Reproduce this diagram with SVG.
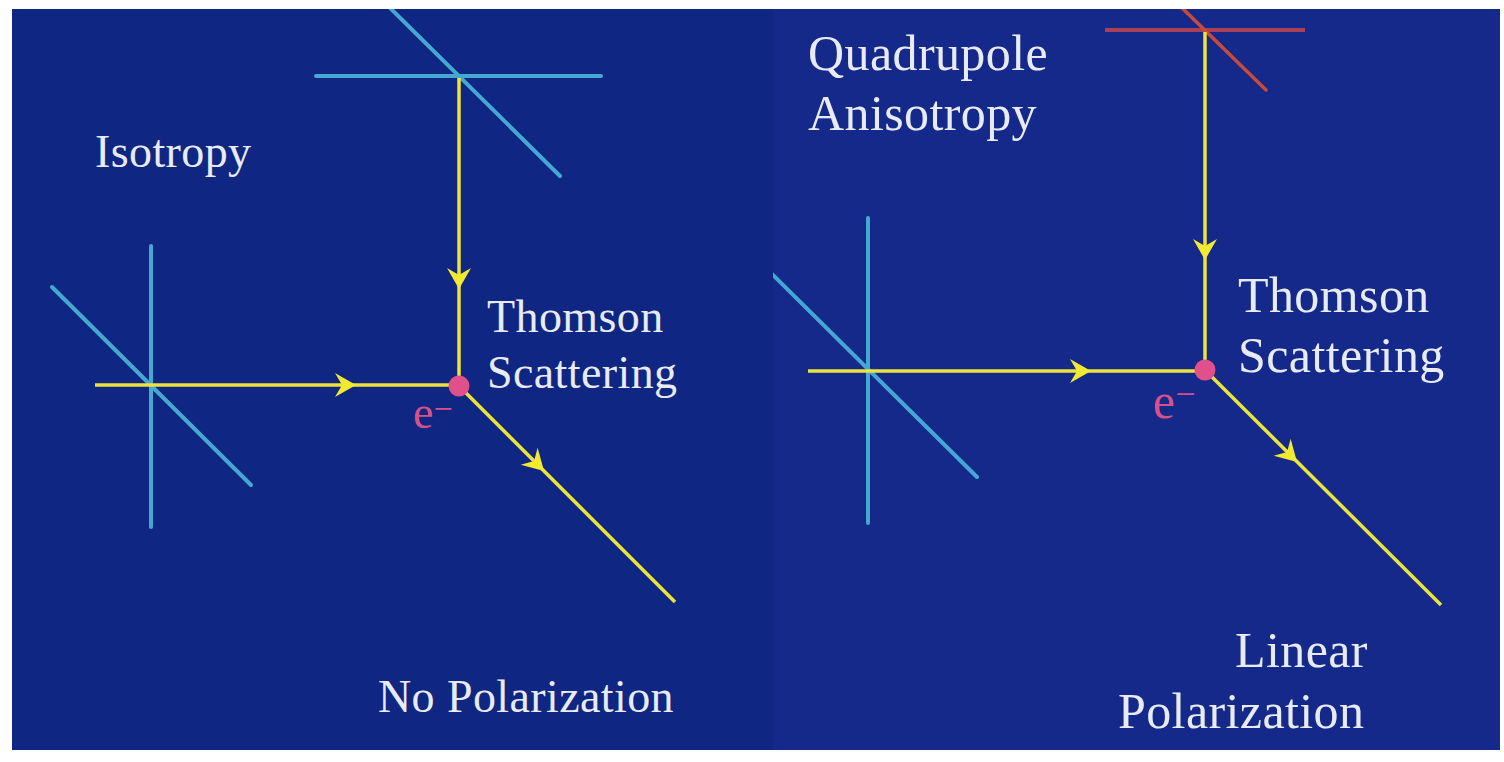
<svg xmlns="http://www.w3.org/2000/svg" width="1504" height="762" viewBox="0 0 1504 762">
<style>
.cy{stroke:#44a8d2;stroke-width:4;stroke-linecap:round;fill:none}
.yl{stroke:#ece43a;stroke-width:3.5;fill:none}
.ah{fill:#f2ea30}
.tx{font-family:"Liberation Serif","Times New Roman",serif;fill:#e8ebf4;letter-spacing:0.4px}
.el{font-family:"Liberation Serif","Times New Roman",serif;fill:#d6508c}
.dot{fill:#e0508a}
</style>
<defs>
<path id="arrow" d="M0,0 L-21,-12 L-14,0 L-21,12 Z"/>
<clipPath id="clipR"><rect x="773" y="9" width="727" height="741"/></clipPath>
<clipPath id="clipL"><rect x="12" y="9" width="761" height="741"/></clipPath>
</defs>
<rect x="0" y="0" width="1504" height="762" fill="#ffffff"/>
<rect id="panel-left" x="12" y="9" width="761" height="741" fill="#0f2682"/>
<rect id="panel-right" x="773" y="9" width="727" height="741" fill="#14298a"/>

<g id="left-top-cross" clip-path="url(#clipL)">
<line class="cy" x1="316" y1="76" x2="601" y2="76"/>
<line class="cy" x1="382" y1="0" x2="560" y2="176"/>
</g>
<g id="left-side-cross">
<line class="cy" x1="151" y1="246" x2="151" y2="527"/>
<line class="cy" x1="52" y1="287" x2="251" y2="485"/>
</g>
<g id="right-top-cross" clip-path="url(#clipR)">
<line x1="1105" y1="30" x2="1305" y2="30" stroke="#a8405a" stroke-width="4"/>
<line x1="1174" y1="0" x2="1266" y2="90" stroke="#c84a3a" stroke-width="3.5" stroke-linecap="round"/>
</g>
<g id="right-side-cross" clip-path="url(#clipR)">
<line class="cy" x1="868" y1="218" x2="868" y2="523"/>
<line class="cy" x1="770" y1="272" x2="977" y2="477"/>
</g>

<g id="connectors">
<line class="yl" x1="459" y1="78" x2="459" y2="386"/>
<line class="yl" x1="95" y1="385" x2="459" y2="385"/>
<line class="yl" x1="459" y1="386" x2="675" y2="602"/>
<use href="#arrow" class="ah" transform="translate(356,385)"/>
<use href="#arrow" class="ah" transform="translate(459,289) rotate(90)"/>
<use href="#arrow" class="ah" transform="translate(544,471) rotate(45)"/>

<line class="yl" x1="1205" y1="32" x2="1205" y2="370"/>
<line class="yl" x1="808" y1="371" x2="1205" y2="371"/>
<line class="yl" x1="1205" y1="370" x2="1441" y2="605"/>
<use href="#arrow" class="ah" transform="translate(1091,371)"/>
<use href="#arrow" class="ah" transform="translate(1205,260) rotate(90)"/>
<use href="#arrow" class="ah" transform="translate(1297,462) rotate(45)"/>
</g>

<g id="electron-left">
<circle class="dot" cx="459" cy="386" r="10.5"/>
<text class="el" x="413" y="428" font-size="46">e<tspan font-size="34" dy="-8">−</tspan></text>
</g>
<g id="electron-right">
<circle class="dot" cx="1205" cy="370" r="10.5"/>
<text class="el" x="1153" y="418" font-size="50">e<tspan font-size="36" dy="-12">−</tspan></text>
</g>

<g id="label-isotropy"><text class="tx" x="95" y="167" font-size="46">Isotropy</text></g>
<g id="label-thomson-left">
<text class="tx" x="487" y="332" font-size="46">Thomson</text>
<text class="tx" x="487" y="388" font-size="46">Scattering</text>
</g>
<g id="label-no-pol"><text class="tx" x="378" y="712" font-size="46">No Polarization</text></g>

<g id="label-quadrupole">
<text class="tx" x="808" y="70" font-size="50">Quadrupole</text>
<text class="tx" x="808" y="130" font-size="50">Anisotropy</text>
</g>
<g id="label-thomson-right">
<text class="tx" x="1238" y="312" font-size="50">Thomson</text>
<text class="tx" x="1238" y="372" font-size="50">Scattering</text>
</g>
<g id="label-linear-pol">
<text class="tx" x="1235" y="667" font-size="50">Linear</text>
<text class="tx" x="1118" y="728" font-size="50">Polarization</text>
</g>
</svg>
